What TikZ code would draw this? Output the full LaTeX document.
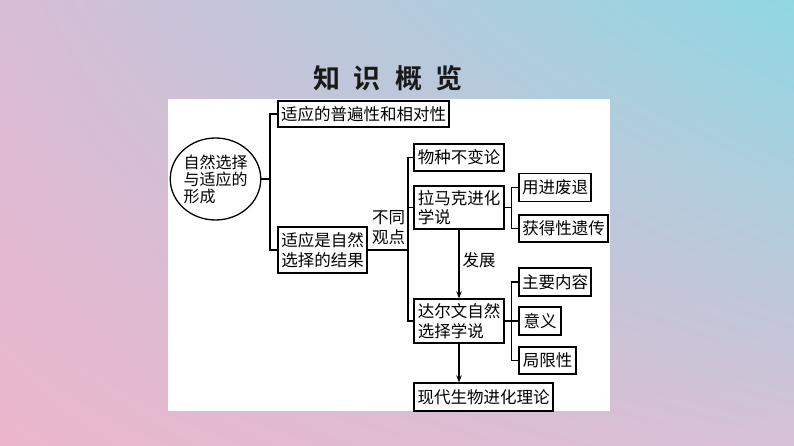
\documentclass[tikz,border=0pt]{standalone}
\usepackage{fontspec}
\setmainfont{Noto Sans CJK SC}
\newfontfamily\cjkbold{Noto Sans CJK SC Bold}
\usetikzlibrary{shapes.geometric,arrows.meta,shadings}
\definecolor{bgTL}{HTML}{D8BDD6}
\definecolor{bgTR}{HTML}{8FD8E2}
\definecolor{bgBL}{HTML}{EBB6CC}
\definecolor{bgBR}{HTML}{D6C0D6}
\tikzset{
  box/.style={draw=black, line width=1.3pt, fill=white, rectangle, inner sep=0pt,
    font=\fontsize{16.5pt}{19.5pt}\selectfont, align=left},
  lbl/.style={inner sep=0pt, font=\fontsize{16.5pt}{19.5pt}\selectfont, align=left},
  conn/.style={line width=1.1pt, draw=black},
  arr/.style={conn, -{Stealth[length=7pt,width=5.5pt]}}
}
\begin{document}
\begin{tikzpicture}[x=1pt,y=-1pt]
\useasboundingbox (0,0) rectangle (794,446);
\shade[upper left=bgTL, upper right=bgTR, lower left=bgBL, lower right=bgBR] (0,0) rectangle (794,446);
\fill[white] (168,99) rectangle (610,411);
\node[inner sep=0pt, font=\cjkbold\fontsize{27pt}{30pt}\selectfont, text=black!90] (title) at (388,78) {知\hspace{14pt}识\hspace{14pt}概\hspace{14pt}览};
% nodes
\node[draw=black, line width=1.3pt, ellipse, minimum width=89pt, minimum height=82pt, inner sep=0pt,
  font=\fontsize{16pt}{17pt}\selectfont, align=left] (e) at (215.5,179) {自然选择\\与适应的\\形成};
\node[box, minimum width=171pt, minimum height=26pt] (b1) at (363.5,114) {适应的普遍性和相对性};
\node[box, minimum width=89pt, minimum height=46pt] (b2) at (322.5,250) {适应是自然\\选择的结果};
\node[lbl] (diff) at (388.5,227.5) {不同\\观点};
\node[box, minimum width=90pt, minimum height=27pt] (w1) at (459,157.5) {物种不变论};
\node[box, minimum width=90pt, minimum height=43pt] (lam) at (459,207.5) {拉马克进化\\学说};
\node[box, minimum width=72pt, minimum height=28pt] (y1) at (555,187.5) {用进废退};
\node[box, minimum width=89pt, minimum height=27pt] (y2) at (563.5,228.5) {获得性遗传};
\node[lbl] (dev) at (479,260) {发展};
\node[box, minimum width=90pt, minimum height=44pt] (dar) at (459,321) {达尔文自然\\选择学说};
\node[box, minimum width=72pt, minimum height=28pt] (z1) at (555,282) {主要内容};
\node[box, minimum width=42pt, minimum height=28pt] (z2) at (540,321) {意义};
\node[box, minimum width=57pt, minimum height=27pt] (z3) at (547.5,360.5) {局限性};
\node[box, minimum width=139pt, minimum height=28pt] (mod) at (483.5,397) {现代生物进化理论};
% junctions
\coordinate (j1) at (270,179);
\coordinate (j2) at (408,250);
\coordinate (j3) at (511.5,207.5);
\coordinate (j4) at (511.5,321);
% connectors
\draw[conn] (e.east) -- (j1);
\draw[conn] (b1.west) -| (j1) |- (b2.west);
\draw[conn] (b2.east) -- (j2);
\draw[conn] (w1.west) -| (j2) |- (dar.west);
\draw[conn] (lam.west) -- (lam.west -| j2);
\draw[conn] (lam.east) -- (j3);
\draw[conn] (y1.west) -| (j3) |- (y2.west);
\draw[conn] (dar.east) -- (j4) -- (z2.west);
\draw[conn] (z1.west) -| (j4) |- (z3.west);
\draw[arr] (lam.south) -- (dar.north);
\draw[arr] (dar.south) -- (dar.south |- mod.north);
\end{tikzpicture}
\end{document}
